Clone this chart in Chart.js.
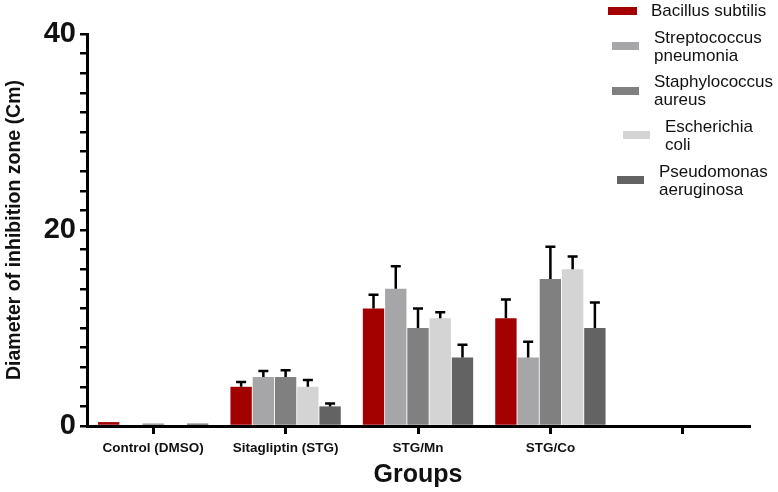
<!DOCTYPE html>
<html>
<head>
<meta charset="utf-8">
<script src="https://cdn.jsdelivr.net/npm/chart.js@4.4.1/dist/chart.umd.min.js"></script>
<style>
  body { margin: 0; background: #fff; }
  #wrap { width: 778px; height: 492px; position: relative; }
</style>
</head>
<body>
<div id="wrap"><canvas id="barChart"></canvas></div>
<script>
// groups on the x axis (last slot is empty, like the original)
const groups = ["Control (DMSO)", "Sitagliptin (STG)", "STG/Mn", "STG/Co", ""];

const species = [
    "Bacillus subtilis",
    "Streptococcus pneumonia",
    "Staphylococcus aureus",
    "Escherichia coli",
    "Pseudomonas aeruginosa"
];

// mean inhibition zone per group (Cm)
const bacillus = [0.4, 4, 12, 11, null];
const strepto = [0, 5, 14, 7, null];
const staphylo = [0.25, 5, 10, 15, null];
const escherichia = [0, 4, 11, 16, null];
const pseudomonas = [0.25, 2, 7, 10, null];

// upper error (SD)
const bacillusErr = [0, 0.5, 1.4, 1.9, null];
const streptoErr = [0, 0.6, 2.3, 1.6, null];
const staphyloErr = [0, 0.7, 2.0, 3.3, null];
const escherichiaErr = [0, 0.7, 0.6, 1.3, null];
const pseudomonasErr = [0, 0.3, 1.3, 2.6, null];

const colors = ["#a30000", "#a6a6a9", "#808080", "#d4d4d4", "#636363"];

const FONT = "'Liberation Sans', Arial, sans-serif";

// legend placement (mimics the hand-placed legend of the figure)
const legendLayout = [
    { box: [608, 7, 29, 8], tx: 651, lines: ["Bacillus subtilis"], ty: [11] },
    { box: [612, 42, 27, 8], tx: 654, lines: ["Streptococcus", "pneumonia"], ty: [38, 56] },
    { box: [612, 87, 27, 8], tx: 654, lines: ["Staphylococcus", "aureus"], ty: [82, 100] },
    { box: [623, 131, 27, 8], tx: 665, lines: ["Escherichia", "coli"], ty: [127, 145] },
    { box: [617, 176, 27, 8], tx: 659, lines: ["Pseudomonas", "aeruginosa"], ty: [172, 190] }
];

// draw the upper error bars on top of each bar
const errorBarPlugin = {
    id: "errorBars",
    afterDatasetsDraw(chart) {
        const ctx = chart.ctx;
        const yScale = chart.scales.y;
        ctx.save();
        ctx.strokeStyle = "#000";
        ctx.lineWidth = 2.5;
        chart.data.datasets.forEach((ds, i) => {
            const meta = chart.getDatasetMeta(i);
            meta.data.forEach((bar, j) => {
                const v = ds.data[j];
                const e = ds.errors[j];
                if (v == null || !e) return;
                const yTop = yScale.getPixelForValue(v);
                const yCap = yScale.getPixelForValue(v + e);
                ctx.beginPath();
                ctx.moveTo(bar.x, yTop);
                ctx.lineTo(bar.x, yCap);
                ctx.moveTo(bar.x - 5, yCap);
                ctx.lineTo(bar.x + 5, yCap);
                ctx.stroke();
            });
        });
        ctx.restore();
    }
};

const legendPlugin = {
    id: "sideLegend",
    afterDraw(chart) {
        const ctx = chart.ctx;
        ctx.save();
        ctx.font = "17px " + FONT;
        ctx.textBaseline = "middle";
        ctx.textAlign = "left";
        legendLayout.forEach((item, i) => {
            ctx.fillStyle = colors[i];
            ctx.fillRect(item.box[0], item.box[1], item.box[2], item.box[3]);
            ctx.fillStyle = "#111";
            item.lines.forEach((line, k) => ctx.fillText(line, item.tx, item.ty[k]));
        });
        ctx.restore();
    }
};

const seriesValues = [bacillus, strepto, staphylo, escherichia, pseudomonas];
const seriesErrors = [bacillusErr, streptoErr, staphyloErr, escherichiaErr, pseudomonasErr];

const ctx = document.getElementById("barChart").getContext("2d");
new Chart(ctx, {
    type: "bar",
    data: {
        labels: groups,
        datasets: species.map((name, i) => ({
            label: name,
            data: seriesValues[i],
            errors: seriesErrors[i],
            backgroundColor: colors[i],
            borderWidth: 0,
            barPercentage: 0.96,
            categoryPercentage: 0.84
        }))
    },
    plugins: [errorBarPlugin, legendPlugin],
    options: {
        responsive: true,
        maintainAspectRatio: false,
        animation: false,
        layout: { padding: { top: 34, right: 29, bottom: 0, left: 0 } },
        plugins: {
            legend: { display: false },
            tooltip: { enabled: false }
        },
        scales: {
            x: {
                afterFit: (scale) => { scale.height = 66; },
                border: { color: "#000", width: 3 },
                grid: {
                    offset: false,
                    drawOnChartArea: false,
                    color: "#000",
                    lineWidth: 3,
                    tickLength: 8
                },
                ticks: {
                    color: "#111",
                    padding: 6,
                    font: { family: FONT, size: 13.5, weight: "bold" }
                },
                title: {
                    display: true,
                    text: "Groups",
                    color: "#111",
                    padding: { top: 0, bottom: 2 },
                    font: { family: FONT, size: 25, weight: "bold" }
                }
            },
            y: {
                min: 0,
                max: 40,
                afterFit: (scale) => { scale.width = 87; },
                border: { color: "#000", width: 3 },
                grid: {
                    drawOnChartArea: false,
                    color: "#000",
                    lineWidth: 2.5,
                    tickLength: 7
                },
                ticks: {
                    stepSize: 2,
                    autoSkip: false,
                    color: "#111",
                    padding: 4,
                    font: { family: FONT, size: 29, weight: "bold" },
                    callback: (value) => (value % 20 === 0 ? value : "")
                },
                title: {
                    display: true,
                    text: "Diameter of inhibition zone (Cm)",
                    color: "#111",
                    padding: { top: 3, bottom: 0 },
                    font: { family: FONT, size: 19.5, weight: "bold" }
                }
            }
        }
    }
});
</script>
</body>
</html>
